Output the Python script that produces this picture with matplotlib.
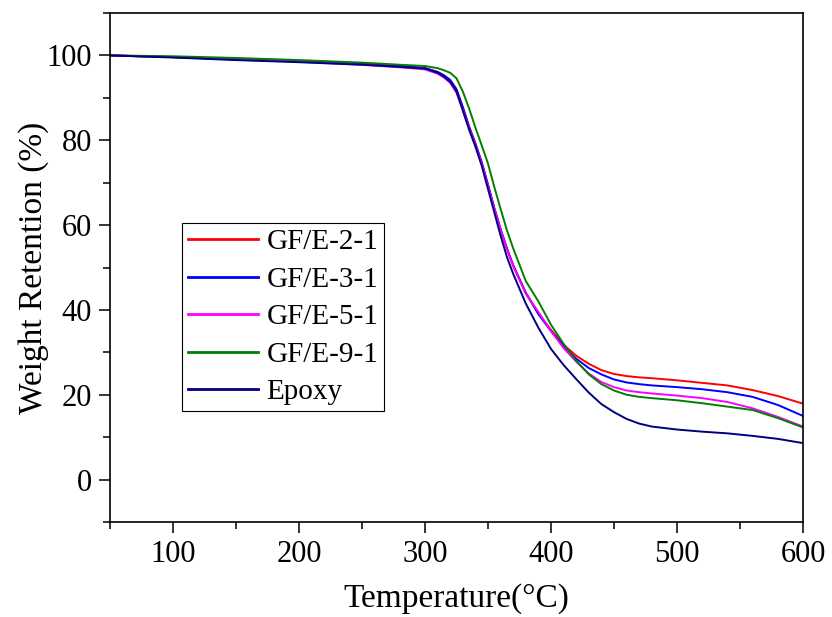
import numpy as np
import matplotlib
matplotlib.use('Agg')
import matplotlib.pyplot as plt
from matplotlib.ticker import MultipleLocator

temperature = [50, 100, 150, 200, 250, 280, 300, 310, 315, 320, 325, 330, 335, 340, 345,
               350, 355, 360, 365, 370, 380, 390, 400, 410, 420, 430, 440, 450, 460,
               470, 480, 500, 520, 540, 560, 580, 600]

gfe_2_1 = [100, 99.6, 99.1, 98.6, 98.0, 97.5, 97.0, 96.1, 95.3, 94.2, 92.0, 87.8, 83.2, 79.2, 74.8,
           69.5, 64.0, 59.0, 54.5, 50.5, 44.0, 39.2, 35.3, 31.8, 29.2, 27.3, 25.8, 24.9, 24.4,
           24.1, 23.9, 23.4, 22.8, 22.2, 21.1, 19.7, 17.9]
gfe_3_1 = [100, 99.6, 99.1, 98.6, 98.0, 97.5, 97.0, 96.1, 95.3, 94.2, 92.0, 87.8, 83.2, 79.2, 74.8,
           69.5, 64.0, 59.0, 54.5, 50.5, 44.0, 39.0, 35.0, 31.5, 28.5, 26.3, 24.8, 23.6, 22.9,
           22.5, 22.2, 21.8, 21.3, 20.6, 19.5, 17.6, 15.0]
gfe_5_1 = [100, 99.6, 99.0, 98.5, 97.8, 97.2, 96.7, 95.7, 94.8, 93.5, 91.2, 87.2, 82.8, 78.8, 74.5,
           69.2, 63.8, 58.8, 54.3, 50.3, 43.8, 39.5, 35.0, 31.0, 27.8, 25.0, 23.0, 21.8, 21.0,
           20.6, 20.3, 19.8, 19.2, 18.3, 16.8, 14.8, 12.5]
gfe_9_1 = [100, 99.8, 99.4, 98.9, 98.3, 97.8, 97.5, 97.0, 96.5, 95.9, 94.6, 91.5, 87.5, 83.0, 78.8,
           74.5, 69.0, 63.8, 58.8, 54.5, 46.8, 42.0, 36.5, 32.0, 28.0, 24.8, 22.5, 21.0, 20.0,
           19.5, 19.2, 18.7, 18.0, 17.2, 16.4, 14.5, 12.3]
epoxy = [100, 99.5, 98.9, 98.4, 97.8, 97.3, 96.9, 95.9, 95.0, 93.8, 91.5, 87.0, 82.5, 78.5, 74.0,
         68.5, 63.0, 57.5, 52.5, 48.5, 41.5, 35.8, 30.8, 27.0, 23.7, 20.5, 17.8, 15.9, 14.3,
         13.2, 12.5, 11.8, 11.3, 10.9, 10.3, 9.6, 8.6]

series = [
    ('GF/E-2-1', gfe_2_1, '#FF0000'),
    ('GF/E-3-1', gfe_3_1, '#0000FF'),
    ('GF/E-5-1', gfe_5_1, '#FF00FF'),
    ('GF/E-9-1', gfe_9_1, '#008000'),
    ('Epoxy', epoxy, '#000080'),
]

plt.rcParams['font.family'] = ['Liberation Serif', 'DejaVu Serif']

fig = plt.figure(figsize=(8.32, 6.17), dpi=100)
ax = fig.add_axes([110/832, 1-522/617, (803-110)/832, (522-13)/617])

for name, vals, col in series:
    ax.plot(temperature, vals, color=col, lw=1.4, label=name)

ax.set_xlim(50, 600)
ax.set_ylim(-10, 110)
ax.xaxis.set_major_locator(MultipleLocator(100))
ax.xaxis.set_minor_locator(MultipleLocator(50))
ax.yaxis.set_major_locator(MultipleLocator(20))
ax.yaxis.set_minor_locator(MultipleLocator(10))
ax.tick_params(which='major', direction='out', length=8, width=1.1, labelsize=22, pad=5)
ax.tick_params(which='minor', direction='out', length=5, width=1.1)
ax.tick_params(top=False, right=False, which='both')
for sp in ax.spines.values():
    sp.set_linewidth(1.2)

ax.set_xlabel('Temperature(°C)', fontsize=24, labelpad=10)
ax.set_ylabel('Weight Retention (%)', fontsize=24, labelpad=-2)

leg = ax.legend(loc='upper left', bbox_to_anchor=(182/832, 1-223/617), bbox_transform=fig.transFigure,
                borderaxespad=0, fontsize=21, frameon=True, fancybox=False, framealpha=1,
                edgecolor='black', handlelength=2.4, handletextpad=0.3, labelspacing=0.38,
                borderpad=0.2)
leg.get_frame().set_linewidth(0.8)
for line in leg.get_lines():
    line.set_linewidth(2)

fig.savefig('out.png', dpi=100, facecolor='w')
